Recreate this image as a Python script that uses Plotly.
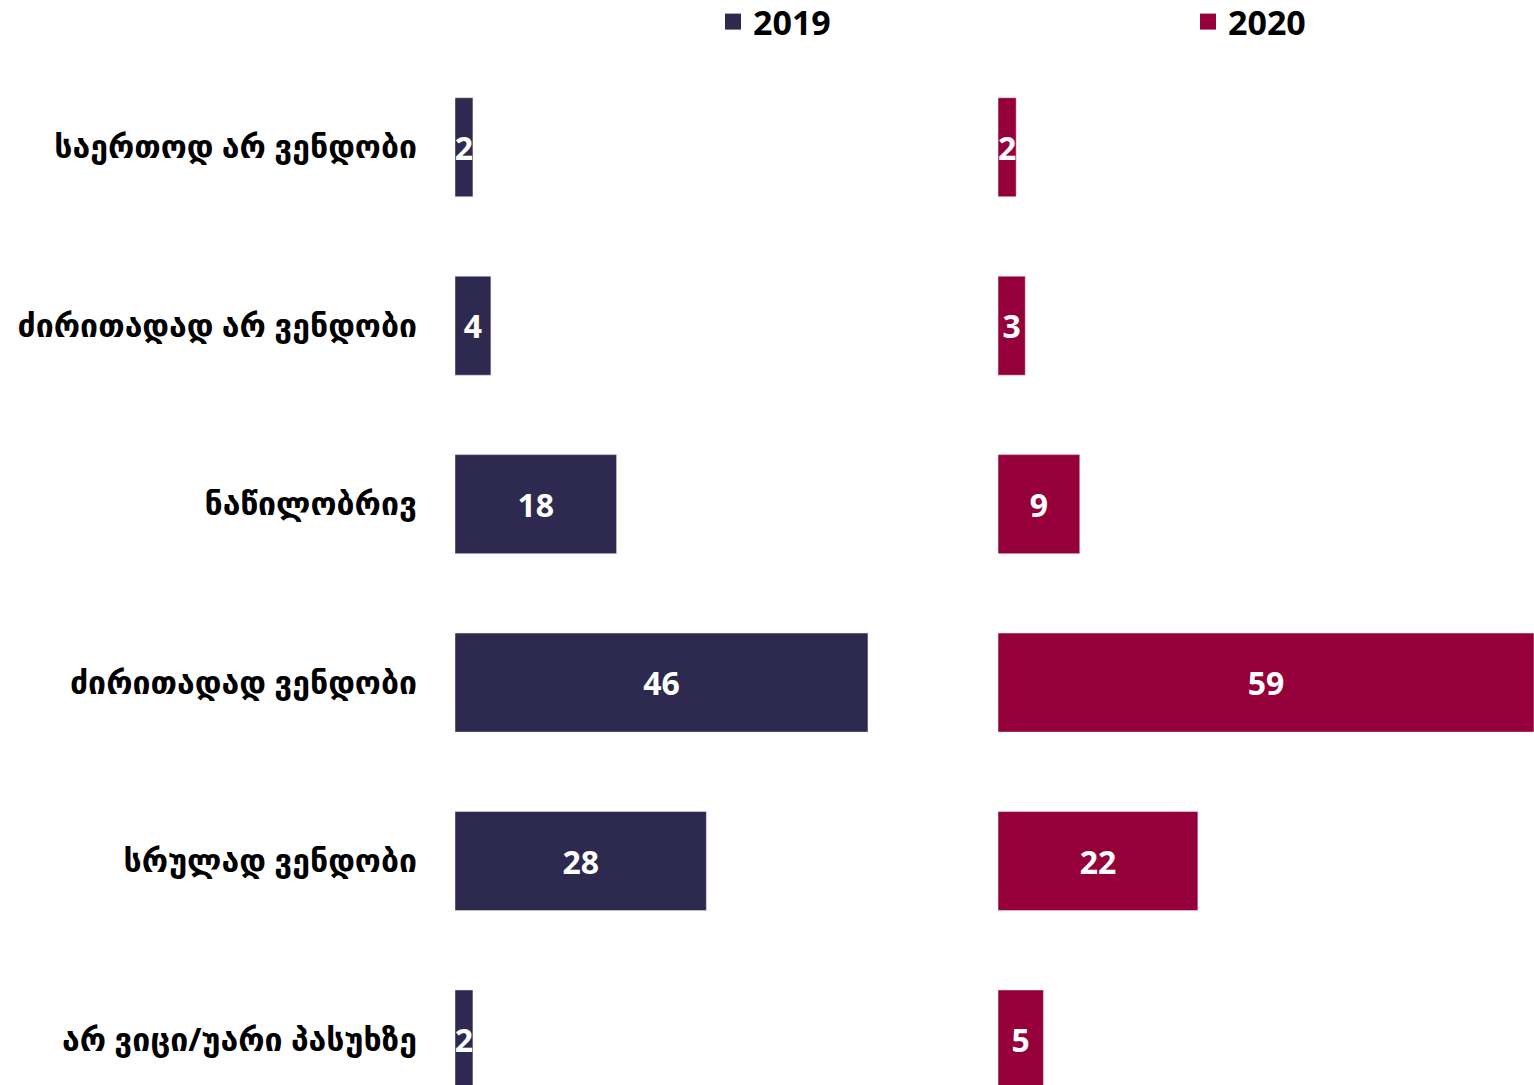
import plotly.graph_objects as go

categorias = [
    "საერთოდ არ ვენდობი",
    "ძირითადად არ ვენდობი",
    "ნაწილობრივ",
    "ძირითადად ვენდობი",
    "სრულად ვენდობი",
    "არ ვიცი/უარი პასუხზე",
]
valores_2019 = [2, 4, 18, 46, 28, 2]
valores_2020 = [2, 3, 9, 59, 22, 5]

COR_2019 = "#2E2A4F"
COR_2020 = "#96003A"
FONTE = "Open Sans, DejaVu Sans, sans-serif"

fig = go.Figure()

fig.add_trace(go.Bar(
    x=valores_2019, y=categorias, orientation="h",
    marker_color=COR_2019, name="2019", showlegend=False,
    text=valores_2019, textposition="inside", insidetextanchor="middle",
    constraintext="none", cliponaxis=False,
    textfont=dict(color="white", size=32, family=FONTE, weight="bold"),
    xaxis="x", yaxis="y",
))
fig.add_trace(go.Bar(
    x=valores_2020, y=categorias, orientation="h",
    marker_color=COR_2020, name="2020", showlegend=False,
    text=valores_2020, textposition="inside", insidetextanchor="middle",
    constraintext="none", cliponaxis=False,
    textfont=dict(color="white", size=32, family=FONTE, weight="bold"),
    xaxis="x2", yaxis="y2",
))

# itens de legenda separados
fig.add_trace(go.Scatter(
    x=[None], y=[None], mode="markers", name="2019",
    marker=dict(symbol="square", size=20, color=COR_2019), legend="legend",
))
fig.add_trace(go.Scatter(
    x=[None], y=[None], mode="markers", name="2020",
    marker=dict(symbol="square", size=20, color=COR_2020), legend="legend2",
))

faixa_y = [5.255, -0.5]
fonte_legenda = dict(size=34, family=FONTE, color="black", weight="bold")

fig.update_layout(
    width=1534,
    height=1085,
    margin=dict(l=0, r=0, t=58, b=0),
    plot_bgcolor="white",
    paper_bgcolor="white",
    bargap=0.445,
    xaxis=dict(domain=[0.2966, 0.646], range=[0, 59.7], visible=False, fixedrange=True),
    xaxis2=dict(domain=[0.6506, 1.0], range=[0, 59.0], visible=False, fixedrange=True),
    yaxis=dict(
        range=faixa_y, showgrid=False, zeroline=False, showline=False,
        ticks="", ticklabelstandoff=37, fixedrange=True,
        tickfont=dict(size=32, family=FONTE, color="black", weight="bold"),
    ),
    yaxis2=dict(range=faixa_y, anchor="x2", matches="y", visible=False),
    legend=dict(
        x=713 / 1534, y=1 - 22 / 1085, xanchor="left", yanchor="middle",
        xref="paper", yref="container", font=fonte_legenda,
        itemwidth=30, tracegroupgap=0, bgcolor="rgba(0,0,0,0)",
    ),
    legend2=dict(
        x=1188 / 1534, y=1 - 22 / 1085, xanchor="left", yanchor="middle",
        xref="paper", yref="container", font=fonte_legenda,
        itemwidth=30, tracegroupgap=0, bgcolor="rgba(0,0,0,0)",
    ),
)

fig.write_html(
    "out.html",
    config={"displayModeBar": False},
    post_script="document.body.style.margin='0';",
)
